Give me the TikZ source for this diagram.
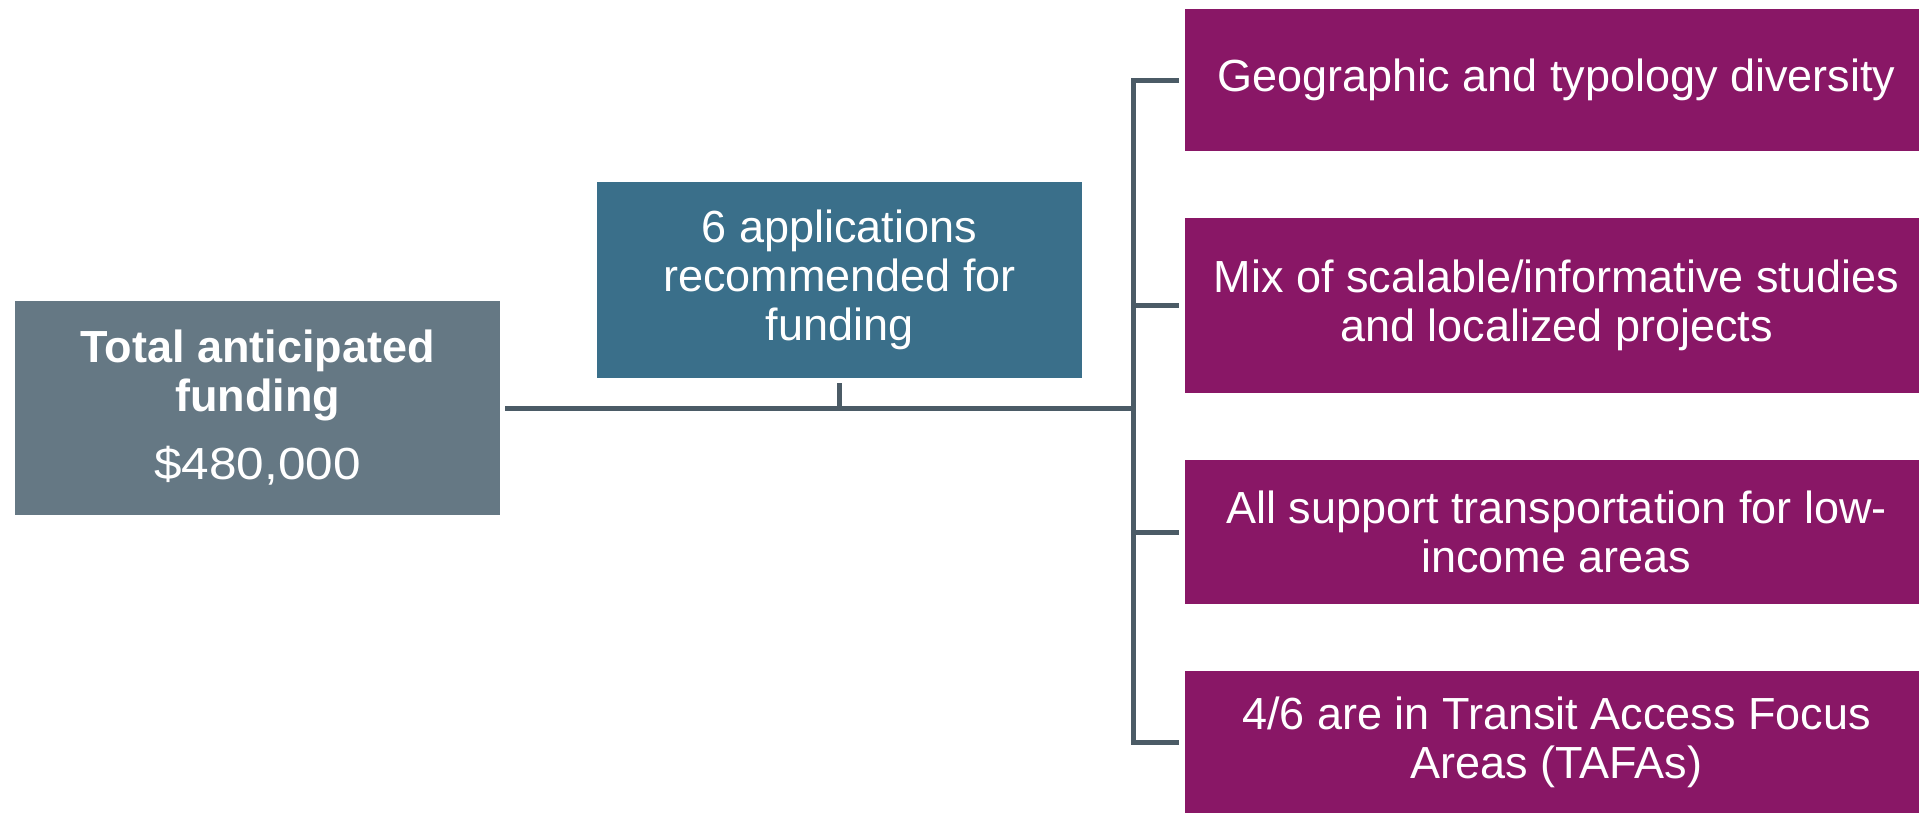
\documentclass[tikz,border=0pt]{standalone}
\usepackage{fontspec}
\setmainfont{Liberation Sans}
\definecolor{graybox}{HTML}{657884}
\definecolor{tealbox}{HTML}{3A6F8A}
\definecolor{plumbox}{HTML}{891766}
\definecolor{linecol}{HTML}{4B5B66}
\tikzset{
  box/.style={fill=#1, draw=none, inner sep=0pt, anchor=center, align=center,
    text=white, font=\fontsize{45}{49}\selectfont},
  conn/.style={draw=linecol, line width=5pt, line cap=butt, line join=miter},
}
\begin{document}
\begin{tikzpicture}[x=1pt, y=-1pt]
\useasboundingbox (0,0) rectangle (1919,812);
\clip (0,0) rectangle (1919,812);
\node[box=graybox, minimum width=485pt, minimum height=214pt] (total) at (257.5,408)
  {\textbf{Total anticipated}\\\textbf{funding}\\[19pt]\scalebox{1.1}[1]{\$480,000}};
\node[box=tealbox, minimum width=485pt, minimum height=196pt] (apps) at (839.5,280)
  {6 applications\\recommended for\\funding};
\node[box=plumbox, minimum width=743pt, minimum height=142pt] (r1) at (1556.5,80)
  {Geographic and typology diversity};
\node[box=plumbox, minimum width=743pt, minimum height=175pt] (r2) at (1556.5,305.5)
  {Mix of scalable/informative studies\\and localized projects};
\node[box=plumbox, minimum width=743pt, minimum height=144pt] (r3) at (1556.5,532)
  {All support transportation for low-\\income areas};
\node[box=plumbox, minimum width=743pt, minimum height=142pt] (r4) at (1556.5,742)
  {4/6 are in Transit Access Focus\\Areas (TAFAs)};
\coordinate (hub) at (1133,408);
\draw[conn] ([xshift=5pt]total.east) -- (hub);
\draw[conn] ([yshift=-5pt]apps.south) -- (apps.south |- hub);
\draw[conn] ([xshift=-6pt]r1.west) -| (r4.west -| hub) -- ([xshift=-6pt]r4.west);
\draw[conn] (r2.west -| hub) -- ([xshift=-6pt]r2.west);
\draw[conn] (r3.west -| hub) -- ([xshift=-6pt]r3.west);
\end{tikzpicture}
\end{document}
